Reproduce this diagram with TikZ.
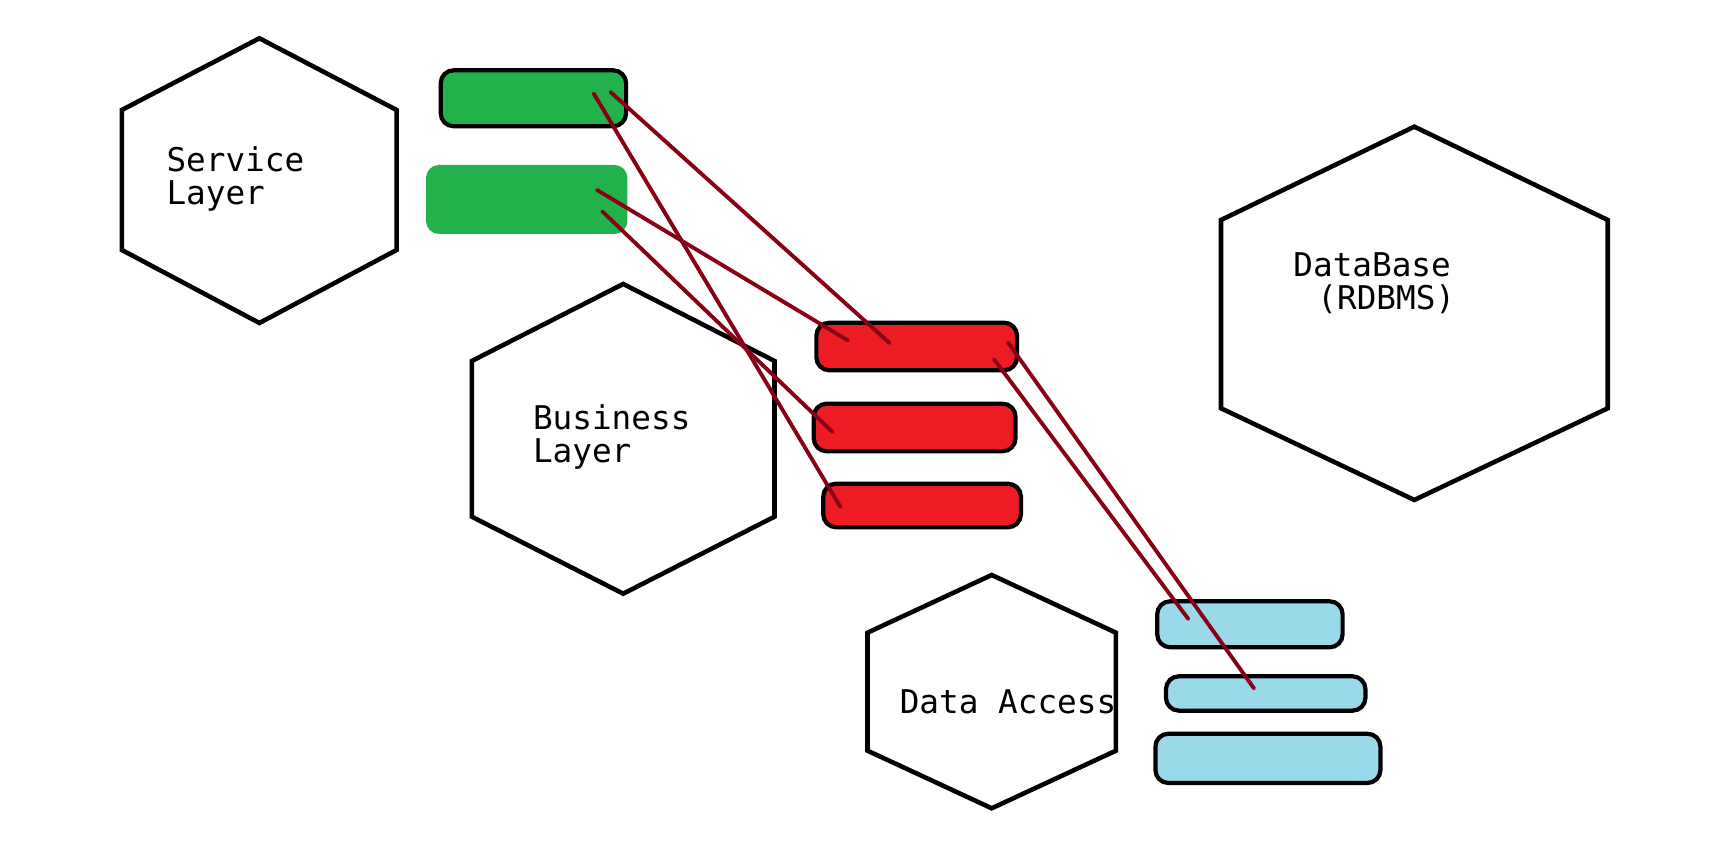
\documentclass[tikz,border=0pt]{standalone}
\usepackage{fontspec}
\setmonofont{DejaVu Sans Mono}
\definecolor{paintgreen}{HTML}{22B14C}
\definecolor{paintred}{HTML}{ED1C24}
\definecolor{paintblue}{HTML}{99D9EA}
\definecolor{wirered}{HTML}{880015}

\begin{document}
\begin{tikzpicture}[
  hexline/.style={draw=black, line width=1.3pt},
  slab/.style={rounded corners=0.13cm, line width=1.2pt, inner sep=0pt},
  wire/.style={draw=wirered, line width=1.1pt, line cap=round},
  tag/.style={font=\ttfamily\fontsize{9.3}{9.4}\selectfont, align=left, anchor=base west, inner sep=0pt}
]
\useasboundingbox (0,0) rectangle (17.30,8.67);

% the four layers
\path[hexline] (2.594,8.287) -- (3.966,7.57) -- (3.966,6.17) -- (2.594,5.44) -- (1.218,6.17) -- (1.218,7.57) -- cycle;
\path[hexline] (6.232,5.83) -- (7.745,5.06) -- (7.745,3.503) -- (6.232,2.733) -- (4.718,3.503) -- (4.718,5.06) -- cycle;
\path[hexline] (9.917,2.92) -- (11.159,2.343) -- (11.159,1.163) -- (9.917,0.587) -- (8.675,1.163) -- (8.675,2.343) -- cycle;
\path[hexline] (14.143,7.403) -- (16.077,6.47) -- (16.077,4.587) -- (14.143,3.67) -- (12.21,4.587) -- (12.21,6.47) -- cycle;

% components
\node[slab, fill=paintgreen, minimum width=2.014cm, minimum height=0.69cm] (svcB) at (5.267,6.675) {};
\foreach \n/\x/\y/\w/\h/\c in {svcA/5.334/7.687/1.854/0.56/paintgreen,
    bizA/9.167/5.205/2.007/0.476/paintred, bizB/9.146/4.395/2.018/0.476/paintred,
    bizC/9.2205/3.615/1.977/0.436/paintred,
    dalA/12.499/2.427/1.854/0.46/paintblue, dalB/12.657/1.735/1.995/0.344/paintblue,
    dalC/12.679/1.0865/2.25/0.493/paintblue} {
  \node[slab, draw, fill=\c, minimum width=\w cm, minimum height=\h cm] (\n) at (\x,\y) {};
}

% calls between layers
\draw[wire] ([shift={(0.603,0.048)}]svcA.center) -- ([shift={(-0.816,-0.015)}]bizC.center);
\draw[wire] ([shift={(0.771,0.063)}]svcA.center) -- ([shift={(-0.272,0.035)}]bizA.center);
\draw[wire] ([shift={(0.703,0.095)}]svcB.center) -- ([shift={(-0.687,0.06)}]bizA.center);
\draw[wire] ([shift={(0.756,-0.119)}]svcB.center) -- ([shift={(-0.821,-0.045)}]bizB.center);
\draw[wire] ([shift={(0.913,0.04)}]bizA.center) -- ([shift={(-0.117,0.051)}]dalB.center);
\draw[wire] ([shift={(0.773,-0.128)}]bizA.center) -- ([shift={(-0.616,0.053)}]dalA.center);

\node[tag] (svcLabel) at (1.658,6.623) {Service\\Layer};
\node[tag] (bizLabel) at (5.323,4.043) {Business\\Layer};
\node[tag] (dalLabel) at (8.991,1.53) {Data Access};
\node[tag] (dbLabel) at (12.927,5.577) {DataBase\\\hspace*{0.24cm}(RDBMS)};
\end{tikzpicture}
\end{document}
